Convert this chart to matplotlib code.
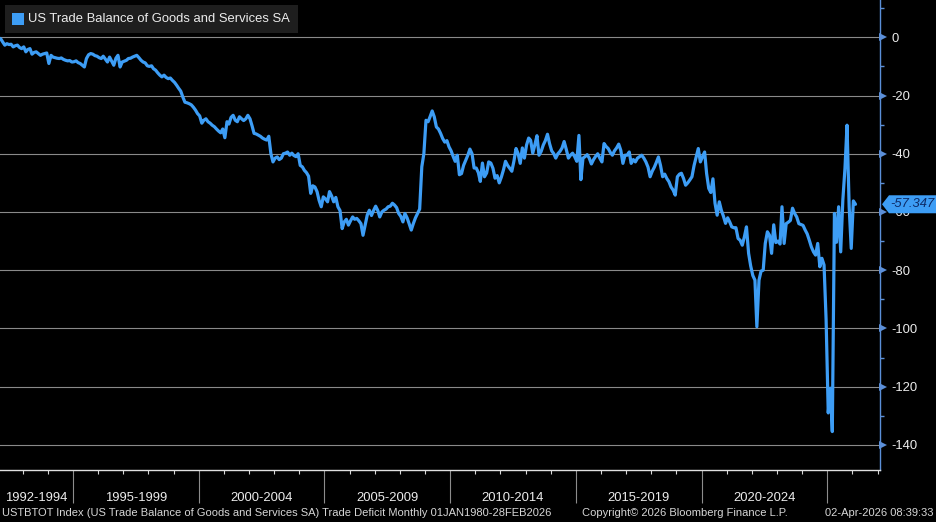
import numpy as np
import pandas as pd
import matplotlib
matplotlib.use("Agg")
import matplotlib.pyplot as plt
import matplotlib.dates as mdates
from matplotlib.patches import Rectangle, Polygon
from matplotlib.transforms import blended_transform_factory

plt.rcParams['font.family'] = ['Liberation Sans', 'DejaVu Sans']
plt.rcParams['axes.unicode_minus'] = False

# ---------------- data ----------------
series_name = "US Trade Balance of Goods and Services SA"
ticker_line = ("USTBTOT Index (US Trade Balance of Goods and Services SA) "
               "Trade Deficit Monthly 01JAN1980-28FEB2026")
copyright_line = "Copyright\u00a9 2026 Bloomberg Finance L.P."
timestamp_line = "02-Apr-2026 08:39:33"
first_month = "1992-01-01"

vals_1992_1994 = [
    -0.2, -0.5, -1.6, -2.7, -2.2, -2.5, -2.4, -3.3, -2.9, -2.7, -3.5, -3.9,
    -3.3, -5.0, -4.2, -3.9, -5.8, -5.2, -5.0, -5.6, -6.2, -5.8, -5.6, -5.4,
    -9.0, -6.2, -6.8, -7.0, -7.2, -7.3, -7.1, -7.6, -7.9, -8.1, -8.0, -8.5]
vals_1995_1999 = [
    -8.4, -8.1, -8.7, -9.0, -9.6, -10.2, -7.3, -6.0, -5.6, -5.8, -6.3, -6.5,
    -7.0, -7.3, -6.5, -7.5, -8.5, -6.8, -8.2, -9.6, -7.2, -6.2, -10.2, -8.5,
    -8.2, -7.9, -7.3, -7.2, -6.8, -6.5, -6.2, -7.0, -7.9, -8.5, -8.8, -9.8,
    -10.0, -9.8, -10.8, -11.3, -12.2, -13.0, -13.6, -13.0, -13.8, -14.2, -14.0, -14.8,
    -15.5, -16.5, -17.5, -18.5, -20.5, -22.3, -22.5, -22.8, -23.2, -24.0, -25.0, -26.2]
vals_2000_2004 = [
    -27.0, -29.5, -28.5, -28.0, -29.0, -29.5, -30.2, -30.7, -31.5, -32.2, -32.8, -31.5,
    -34.5, -29.0, -29.8, -27.5, -26.8, -28.5, -29.0, -27.3, -28.0, -28.6, -28.0, -26.8,
    -28.0, -30.5, -33.0, -33.2, -33.6, -34.0, -34.6, -35.0, -35.3, -34.0, -40.0, -42.8,
    -41.5, -41.1, -42.0, -41.5, -40.0, -39.8, -39.4, -40.5, -39.8, -40.6, -41.0, -40.0,
    -44.0, -44.5, -45.7, -46.5, -47.7, -53.6, -51.0, -51.4, -53.0, -56.0, -58.2, -54.8]
vals_2005_2009 = [
    -55.5, -56.5, -53.0, -54.5, -56.5, -55.0, -58.2, -59.5, -65.7, -63.4, -62.5, -64.5,
    -63.0, -61.7, -62.5, -62.2, -63.0, -64.0, -68.0, -64.5, -61.0, -59.4, -61.2, -59.5,
    -58.0, -59.5, -61.7, -60.0, -59.4, -59.0, -58.2, -58.0, -57.0, -57.6, -58.5, -60.5,
    -61.5, -63.4, -60.5, -62.0, -64.0, -66.2, -64.0, -62.0, -60.5, -59.0, -44.5, -40.0,
    -28.5, -29.0, -27.3, -25.3, -27.3, -30.8, -31.5, -33.0, -34.8, -36.0, -35.5, -37.6]
vals_2010_2014 = [
    -39.0, -41.0, -42.6, -40.5, -47.2, -46.8, -44.0, -42.2, -40.5, -38.4, -40.0, -44.9,
    -44.9, -46.5, -49.5, -43.2, -47.9, -46.6, -42.8, -43.2, -45.0, -48.4, -47.5, -50.0,
    -48.0, -45.5, -42.6, -44.0, -45.0, -46.0, -42.6, -38.2, -40.0, -43.3, -38.0, -41.5,
    -37.0, -34.6, -35.4, -39.8, -37.0, -33.8, -40.5, -39.2, -37.0, -35.5, -33.3, -36.5,
    -39.0, -40.0, -41.5, -40.0, -39.2, -38.0, -35.8, -38.5, -41.5, -40.5, -39.8, -41.0]
vals_2015_2019 = [
    -42.6, -33.7, -48.9, -41.5, -41.0, -40.3, -41.5, -43.5, -42.0, -40.9, -40.0, -41.5,
    -42.8, -36.5, -37.5, -38.2, -39.5, -40.5, -39.0, -38.0, -36.7, -38.8, -43.3, -40.5,
    -40.5, -39.4, -43.3, -42.0, -42.8, -41.5, -41.0, -40.5, -41.5, -42.8, -44.6, -47.9,
    -46.0, -44.6, -43.0, -41.1, -44.0, -47.9, -47.0, -48.5, -49.6, -51.4, -52.5, -54.2,
    -47.9, -47.0, -46.7, -48.5, -50.8, -50.0, -49.0, -47.9, -44.0, -41.1, -38.2, -42.8]
vals_2020_2024 = [
    -41.0, -39.4, -46.8, -51.9, -53.3, -48.6, -57.0, -61.1, -56.5, -59.4, -61.5, -63.9,
    -62.0, -63.5, -65.1, -65.4, -65.4, -69.1, -69.7, -71.4, -68.5, -65.1, -74.2, -78.5,
    -81.8, -83.4, -99.4, -83.4, -80.3, -80.0, -70.8, -66.8, -68.0, -74.2, -64.4, -70.5,
    -70.0, -71.0, -58.2, -70.8, -64.0, -63.5, -62.9, -58.7, -60.5, -61.7, -64.0, -64.3,
    -64.6, -66.2, -67.5, -69.7, -72.0, -73.7, -74.8, -70.8, -78.8, -75.9, -78.2, -97.0]
vals_2025_2026 = [
    -129.0, -120.5, -135.4, -60.5, -70.4, -58.2, -73.7, -55.9, -45.0, -30.2, -58.2, -72.5,
    -56.2, -57.347]

period_labels = ["1992-1994", "1995-1999", "2000-2004", "2005-2009",
                 "2010-2014", "2015-2019", "2020-2024"]
period_start_years = [1992, 1995, 2000, 2005, 2010, 2015, 2020]
period_end_years = [1995, 2000, 2005, 2010, 2015, 2020, 2025]

y_major = [0, -20, -40, -60, -80, -100, -120, -140]
y_minor = [10, -10, -30, -50, -70, -90, -110, -130]

values = np.array(vals_1992_1994 + vals_1995_1999 + vals_2000_2004 + vals_2005_2009
                  + vals_2010_2014 + vals_2015_2019 + vals_2020_2024 + vals_2025_2026)
dates = pd.date_range(first_month, periods=len(values), freq="MS") + pd.Timedelta(days=14)

# ---------------- style ----------------
W, H = 937, 522
LINE = '#3d9df5'
AXIS_BLUE = '#5b8fd8'
GRID = '#8a8a8a'
TEXT = '#ececec'
FOOT = '#d6d6d6'

fig = plt.figure(figsize=(W / 100, H / 100), dpi=100, facecolor='black')
ax = fig.add_axes([0, 52 / H, 880 / W, 470 / H])
ax.set_facecolor('black')

ax.plot(dates, values, color=LINE, lw=2.3, solid_joinstyle='round',
        solid_capstyle='round', zorder=3)
xleft, xright = pd.Timestamp('1992-02-05'), pd.Timestamp('2027-02-06')
ax.set_xlim(xleft, xright)
ax.set_ylim(-148.6, 12.8)

renderer = fig.canvas.get_renderer()


def fitted_size(s, width_px, base=10.0):
    t = fig.text(0, 0, s, fontsize=base)
    w = t.get_window_extent(renderer).width
    t.remove()
    return base * width_px / w


fs_tick = fitted_size("1992-1994", 62)
fs_legend = fitted_size(series_name, 262)
fs_foot = fitted_size(ticker_line, 548)

# y axis on the right
ax.yaxis.tick_right()
ax.set_yticks(y_major)
ax.set_yticks(y_minor, minor=True)
ax.set_yticklabels([str(v) for v in y_major])
ax.tick_params(axis='y', which='major', length=0, pad=8, labelcolor=TEXT,
               labelsize=fs_tick)
ax.tick_params(axis='y', which='minor', length=3, width=1, color=AXIS_BLUE,
               direction='out')
ax.yaxis.grid(True, which='major', color=GRID, lw=0.8)
ax.set_axisbelow(True)
tri_tr = blended_transform_factory(ax.transAxes, ax.transData)
ax.plot(np.full(len(y_major), 1.0 + 3 / 880), y_major, ls='none', marker='>',
        ms=6, color=AXIS_BLUE, mew=0, transform=tri_tr, clip_on=False, zorder=4)

# x axis
ax.xaxis.set_major_locator(mdates.YearLocator(5))
ax.xaxis.set_minor_locator(mdates.YearLocator(1))
ax.tick_params(axis='x', which='major', length=24, width=0.8, color='#8c8c8c',
               labelbottom=False, direction='out')
ax.tick_params(axis='x', which='minor', length=3, width=0.8, color='#d8d8d8',
               direction='out')

for side in ('top', 'left'):
    ax.spines[side].set_visible(False)
ax.spines['right'].set_color(AXIS_BLUE)
ax.spines['right'].set_linewidth(1.0)
ax.spines['bottom'].set_color('#e0e0e0')
ax.spines['bottom'].set_linewidth(1.0)

lab_tr = blended_transform_factory(ax.transData, ax.transAxes)
for lab, s, e in zip(period_labels, period_start_years, period_end_years):
    start = max(pd.Timestamp(f"{s}-01-01"), xleft)
    end = pd.Timestamp(f"{e}-01-01")
    mid = start + (end - start) / 2
    ax.text(mid, -28 / 470, lab, transform=lab_tr, ha='center', va='center',
            color=TEXT, fontsize=fs_tick)


def fx(px):
    return px / W


def fy(py):
    return 1 - py / H


# legend box
fig.patches.append(Rectangle((fx(5), fy(33)), fx(293), 28 / H, transform=fig.transFigure,
                             facecolor='#1e1e1e', edgecolor='none', zorder=5))
fig.patches.append(Rectangle((fx(12), fy(25)), fx(12), 12 / H, transform=fig.transFigure,
                             facecolor=LINE, edgecolor='none', zorder=6))
fig.text(fx(28), fy(19), series_name, color=TEXT, fontsize=fs_legend,
         ha='left', va='center', zorder=7)

# footer
fig.text(fx(2), fy(513), ticker_line, color=FOOT, fontsize=fs_foot, ha='left', va='center')
fig.text(fx(582), fy(513), copyright_line, color=FOOT, fontsize=fs_foot, ha='left', va='center')
fig.text(fx(934), fy(513), timestamp_line, color=FOOT, fontsize=fs_foot, ha='right', va='center')

# last value tag
last = values[-1]
y_disp = ax.transData.transform((0, last))[1]
y_px = H - y_disp
tag = [(882, y_px), (889, y_px - 9), (937, y_px - 9), (937, y_px + 9), (889, y_px + 9)]
fig.patches.append(Polygon([(fx(a), fy(b)) for a, b in tag], closed=True,
                           transform=fig.transFigure, facecolor=LINE,
                           edgecolor='none', zorder=8))
fig.text(fx(890), fy(y_px), f"{last:.3f}", color='#0d2a66', fontsize=fs_tick,
         style='italic', ha='left', va='center', zorder=9)

fig.savefig("out.png", dpi=100, facecolor='black')
